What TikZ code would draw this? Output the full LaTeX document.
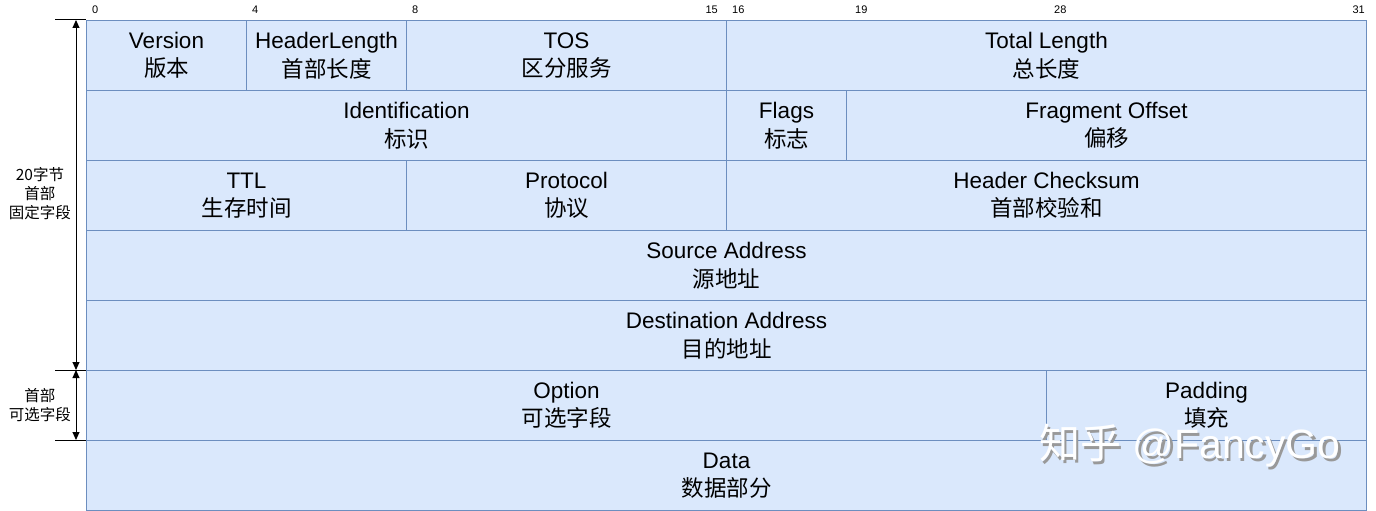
\documentclass[tikz,border=0pt]{standalone}
\usepackage{fontspec}
\setmainfont{Liberation Sans}
\newfontfamily\cjk{Noto Sans CJK SC}
\usetikzlibrary{arrows.meta}
\definecolor{boxfill}{HTML}{DAE8FC}
\definecolor{boxline}{HTML}{6C8EBF}
\tikzset{
  field/.style={draw=boxline, fill=boxfill, line width=1pt, inner sep=0pt,
    anchor=north west, minimum height=70pt, align=center,
    font=\fontsize{22.5}{28.5}\selectfont},
  bitlabel/.style={font=\fontsize{11}{13}\selectfont, inner sep=0pt},
  sidelabel/.style={font=\fontsize{15.5}{19}\selectfont\cjk, align=center, inner sep=0pt},
  tick/.style={line width=1pt},
  span/.style={line width=1pt, {Triangle[length=8pt,width=7pt]}-{Triangle[length=8pt,width=7pt]}},
  wm/.style={font=\fontsize{41}{43}\selectfont, inner sep=0pt}
}
\newcommand\fld[6]{\node[field, minimum width={#3*40pt}] (#1) at ({86+#2*40},{-20-#4*70}) {#5\\{\cjk #6}};}
\newcommand\wmtext{{\cjk 知乎} @FancyGo}
\begin{document}
\begin{tikzpicture}[x=1pt,y=1pt]
\useasboundingbox (0,0) rectangle (1376,-511);
% fields
\fld{ver}{0}{4}{0}{Version}{版本}
\fld{hl}{4}{4}{0}{HeaderLength}{首部长度}
\fld{tos}{8}{8}{0}{TOS}{区分服务}
\fld{tl}{16}{16}{0}{Total Length}{总长度}
\fld{id}{0}{16}{1}{Identification}{标识}
\fld{flags}{16}{3}{1}{Flags}{标志}
\fld{fo}{19}{13}{1}{Fragment Offset}{偏移}
\fld{ttl}{0}{8}{2}{TTL}{生存时间}
\fld{proto}{8}{8}{2}{Protocol}{协议}
\fld{hc}{16}{16}{2}{Header Checksum}{首部校验和}
\fld{src}{0}{32}{3}{Source Address}{源地址}
\fld{dst}{0}{32}{4}{Destination Address}{目的地址}
\fld{opt}{0}{24}{5}{Option}{可选字段}
\fld{pad}{24}{8}{5}{Padding}{填充}
\fld{data}{0}{32}{6}{Data}{数据部分}
% bit labels
\node[bitlabel, anchor=west] (b0) at (92,-10) {0};
\node[bitlabel, anchor=west] (b4) at (252,-10) {4};
\node[bitlabel, anchor=west] (b8) at (412,-10) {8};
\node[bitlabel, anchor=east] (b15) at (718,-10) {15};
\node[bitlabel, anchor=west] (b16) at (732,-10) {16};
\node[bitlabel, anchor=west] (b19) at (855,-10) {19};
\node[bitlabel, anchor=west] (b28) at (1054,-10) {28};
\node[bitlabel, anchor=east] (b31) at (1365,-10) {31};
% side markers
\coordinate (t0) at (55,-20);
\coordinate (t1) at (55,-370);
\coordinate (t2) at (55,-440);
\coordinate (a0) at (76,-20);
\coordinate (a1) at (76,-370);
\coordinate (a2) at (76,-440);
\draw[tick] (t0) -- (ver.north west);
\draw[tick] (t1) -- (opt.north west);
\draw[tick] (t2) -- (data.north west);
\draw[span] (a0) -- (a1);
\draw[span] (a1) -- (a2);
\node[sidelabel] (fixed) at (40,-194) {20字节\\首部\\固定字段};
\node[sidelabel] (optl) at (40,-405) {首部\\可选字段};
% watermark (white text with a soft grey shadow)
\node[wm, anchor=west] (wm) at (1039,-447)
  {\rlap{\kern2.5pt\raisebox{-2.5pt}{\textcolor{black!40}{\wmtext}}}\textcolor{white}{\wmtext}};
\end{tikzpicture}
\end{document}
